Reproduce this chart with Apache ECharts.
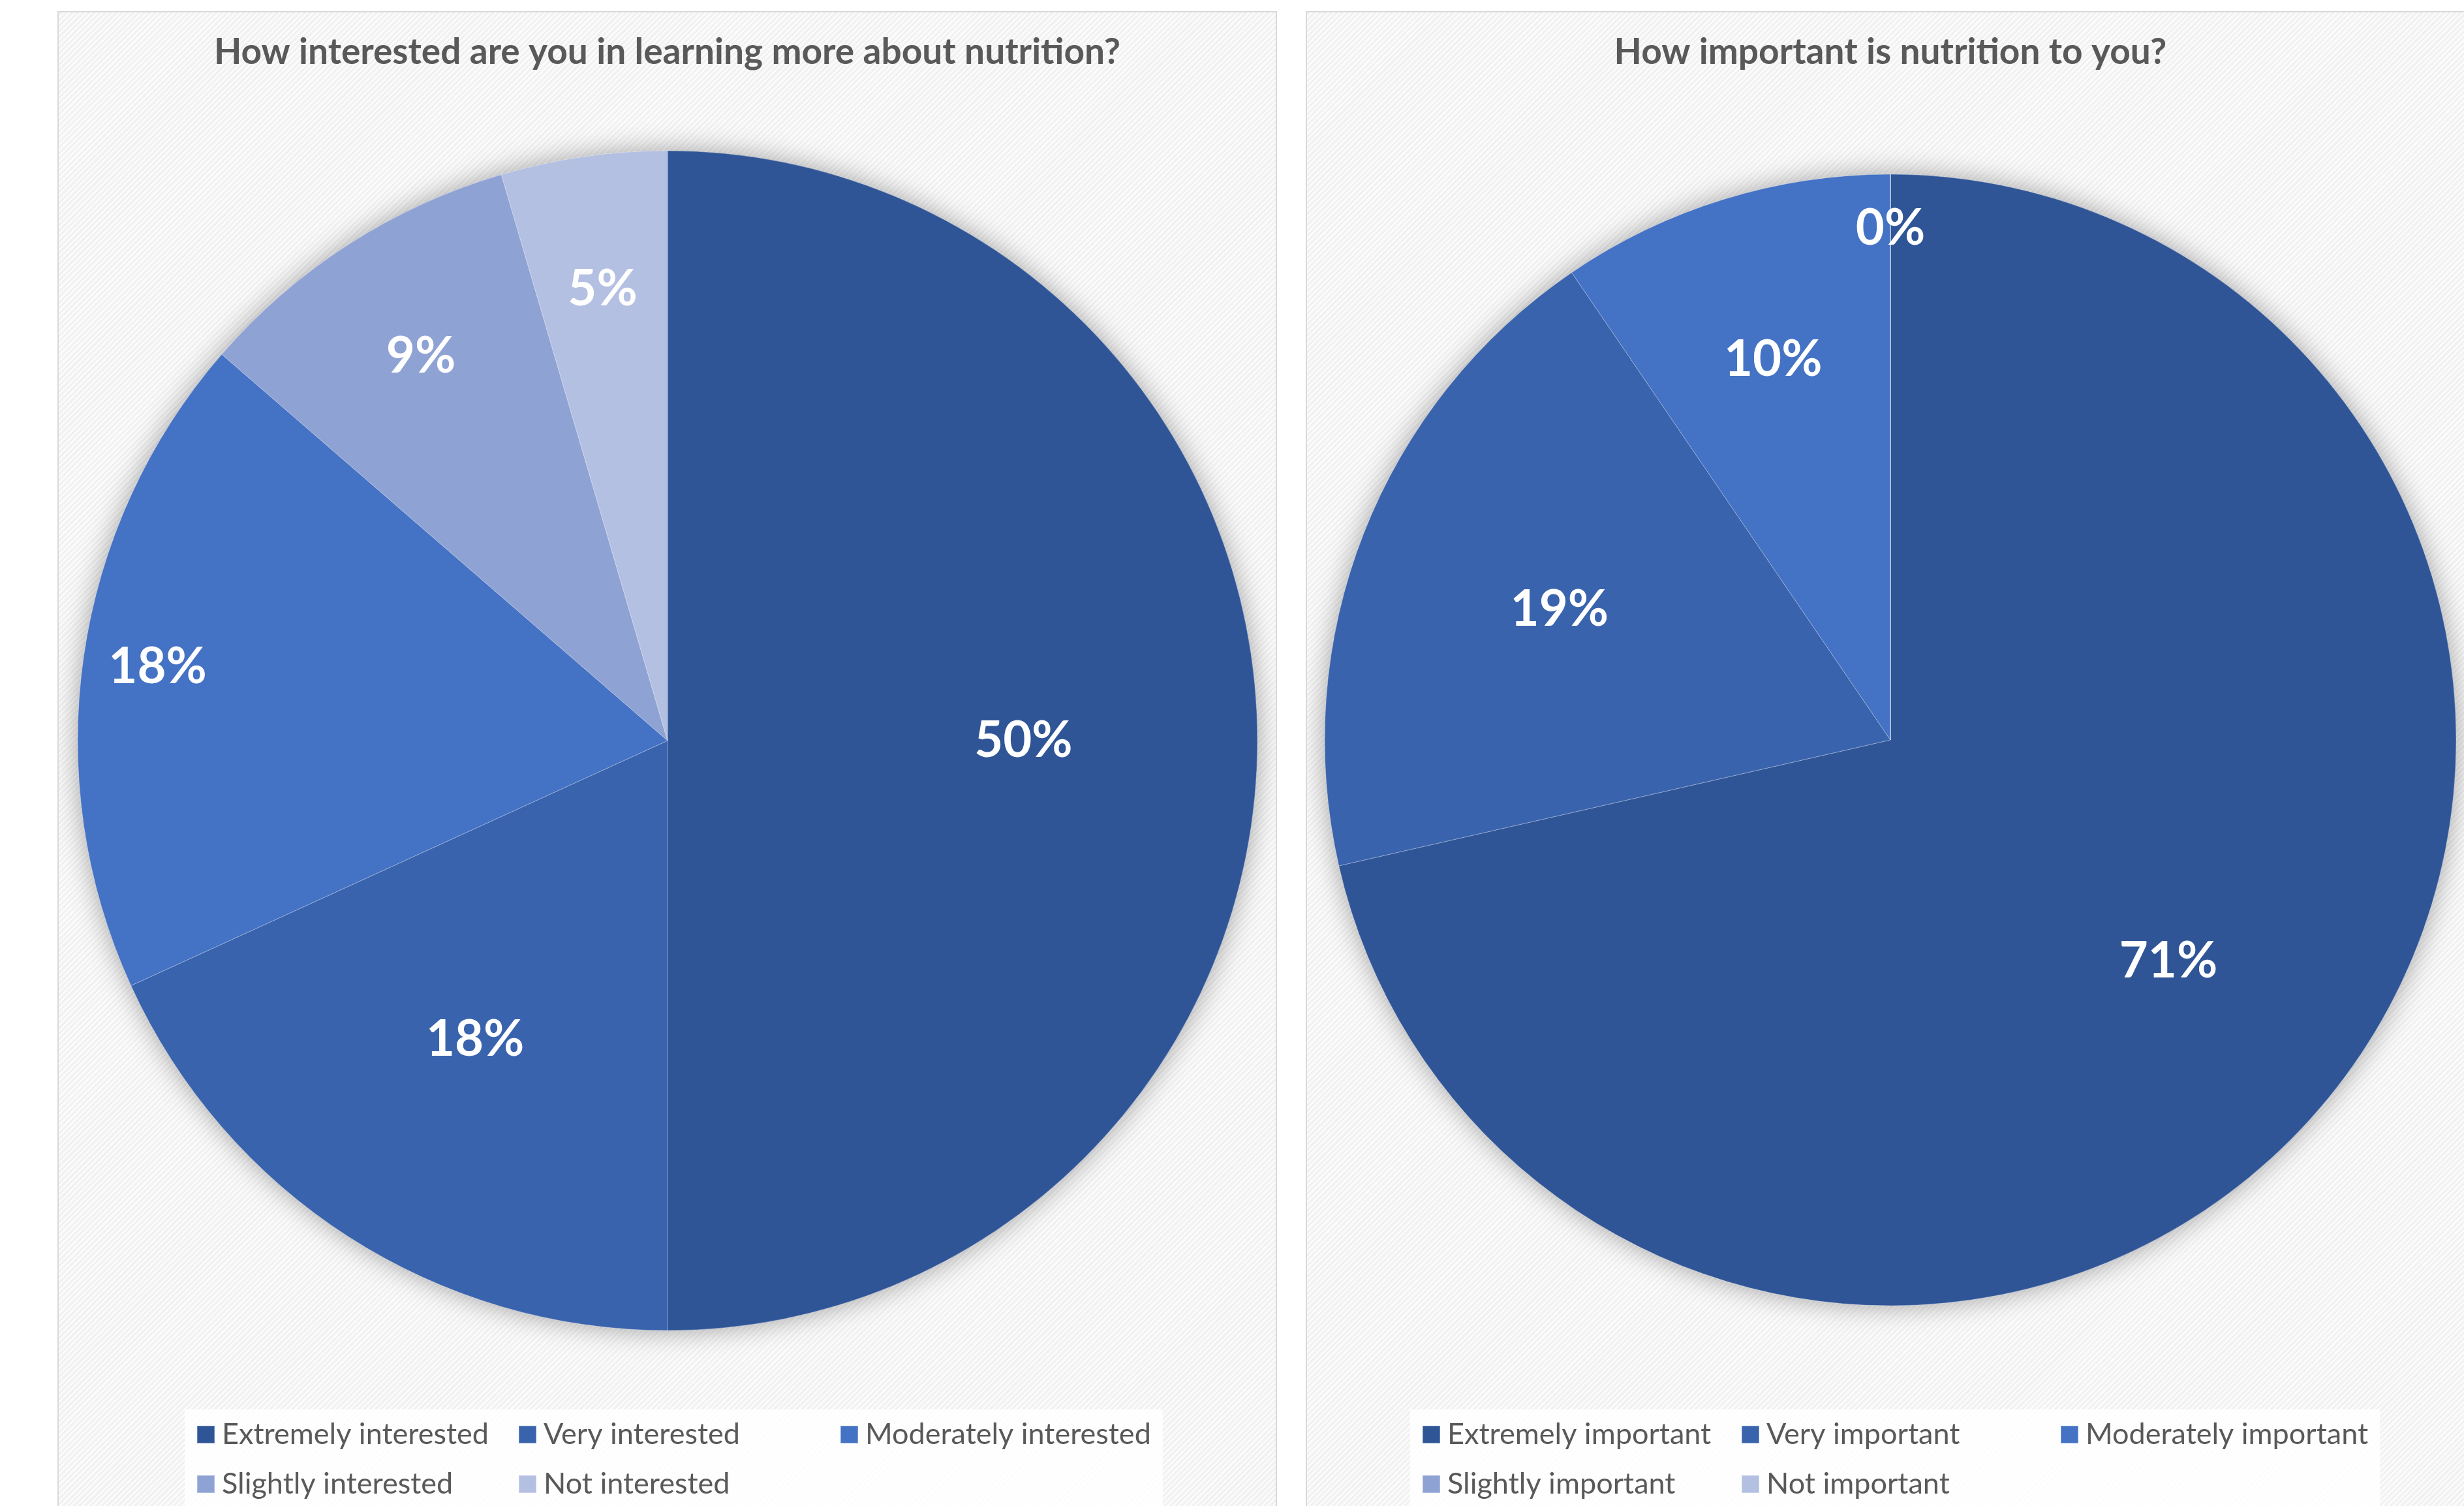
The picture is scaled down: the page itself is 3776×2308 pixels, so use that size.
<!DOCTYPE html>
<html>
<head>
<meta charset="utf-8">
<script src="https://cdn.jsdelivr.net/npm/echarts@6/dist/echarts.min.js"></script>
<style>
  html, body { margin: 0; padding: 0; width: 3776px; height: 2308px; overflow: hidden; background: #fff; }
  .panel {
    position: absolute; top: 17px; height: 2320px; box-sizing: border-box;
    border: 2px solid #d9d9d9;
    background: repeating-linear-gradient(-45deg, #f1f1f1 0 3px, #fbfbfb 3px 6px);
  }
  #left { left: 88px; width: 1869px; }
  #right { left: 2001px; width: 1792px; }
</style>
</head>
<body>
<div class="panel" id="left"></div>
<div class="panel" id="right"></div>
<script>
// survey answers, counts per answer
const interestCategories = ['Extremely interested', 'Very interested', 'Moderately interested', 'Slightly interested', 'Not interested'];
const interestValues = [11, 4, 4, 2, 1];
const importanceCategories = ['Extremely important', 'Very important', 'Moderately important', 'Slightly important', 'Not important'];
const importanceValues = [15, 4, 2, 0, 0];

const colors = ['#2f5597', '#3a63ad', '#4472c4', '#8fa2d4', '#b4c0e2'];
const FONT = 'Lato, "Open Sans", sans-serif';

function makeChart(id, title, cats, vals, opts) {
    const chart = echarts.init(document.getElementById(id), null, { renderer: 'canvas' });
    const data = cats.map((c, i) => ({ name: c, value: vals[i], itemStyle: { color: colors[i] } }));
    const r = opts.radius;

    // transparent ring that only carries labels; the inner radius decides how far out they sit
    const labelSeries = ring => ({
        type: 'pie',
        silent: true,
        center: opts.center,
        radius: [r * ring.inner, r],
        startAngle: 90,
        clockwise: true,
        z: 5,
        itemStyle: { color: 'rgba(0,0,0,0)', borderWidth: 0 },
        label: {
            show: true,
            position: 'inside',
            color: '#fff',
            fontFamily: FONT,
            fontWeight: 'bold',
            fontSize: 76,
            formatter: p => ring.idx.indexOf(p.dataIndex) >= 0 ? Math.round(p.percent) + '%' : ''
        },
        labelLine: { show: false },
        emphasis: { disabled: true },
        data: cats.map((c, i) => ({ name: c, value: vals[i] }))
    });

    let option = {
        animation: false,
        title: {
            text: title,
            left: 'center',
            top: 24,
            textStyle: { fontFamily: FONT, fontWeight: 'bold', fontSize: 55, color: '#595959', lineHeight: 64 }
        },
        legend: {
            data: cats,
            left: opts.legendLeft,
            top: 2141,
            width: 1480,
            orient: 'horizontal',
            selectedMode: false,
            backgroundColor: 'rgba(255,255,255,0.85)',
            padding: [16, 18, 40, 18],
            itemWidth: 27,
            itemHeight: 27,
            itemGap: 31,
            icon: 'rect',
            textStyle: {
                fontFamily: FONT, fontSize: 45, color: '#595959',
                width: opts.legendTextWidth, lineHeight: 44, padding: [0, 0, 0, 6]
            }
        },
        series: [
            {
                // shadow disc behind the pie
                type: 'pie',
                silent: true,
                center: opts.center,
                radius: [0, r],
                z: 1,
                label: { show: false },
                itemStyle: { color: '#d0d0d0', shadowBlur: 40, shadowColor: 'rgba(0,0,0,0.35)' },
                emphasis: { disabled: true },
                data: [{ value: 1, name: '' }]
            },
            {
                type: 'pie',
                center: opts.center,
                radius: [0, r],
                startAngle: 90,
                clockwise: true,
                z: 2,
                label: { show: false },
                labelLine: { show: false },
                itemStyle: { borderColor: 'rgba(255,255,255,0.3)', borderWidth: 1 },
                emphasis: { disabled: true },
                data: data
            }
        ].concat(opts.rings.map(labelSeries))
    };
    chart.setOption(option);
    return chart;
}

makeChart('left', 'How interested are you in learning more about nutrition?', interestCategories, interestValues, {
    center: [933, 1116], radius: 904, legendLeft: 193, legendTextWidth: 423,
    rings: [{ inner: 0.2, idx: [0, 1] }, { inner: 0.54, idx: [3, 4] }, { inner: 0.74, idx: [2] }]
});
makeChart('right', 'How important is nutrition to you?', importanceCategories, importanceValues, {
    center: [894, 1115], radius: 867, legendLeft: 158, legendTextWidth: 419,
    rings: [{ inner: 0.25, idx: [0, 1] }, { inner: 0.4, idx: [2] }, { inner: 0.8, idx: [3, 4] }]
});
</script>
</body>
</html>
